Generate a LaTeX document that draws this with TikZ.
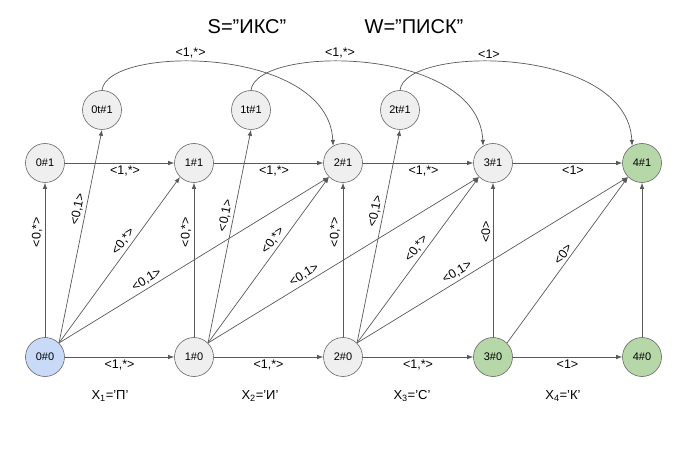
\documentclass[tikz,border=0pt]{standalone}
\usepackage{fontspec}
\setmainfont{Liberation Sans}
\usetikzlibrary{arrows.meta,positioning}

\definecolor{edgegray}{HTML}{595959}
\definecolor{rimgray}{HTML}{666666}
\definecolor{nodegray}{HTML}{EFEFEF}
\definecolor{startblue}{HTML}{C9DAF8}
\definecolor{finalgreen}{HTML}{B6D7A8}

\begin{document}
\begin{tikzpicture}[>={Latex[length=6pt,width=4.5pt]}, x=1pt, y=1pt,
  state/.style={circle, draw=rimgray, line width=0.6pt, fill=nodegray, minimum size=39pt, inner sep=0pt, font=\fontsize{11}{13}\selectfont},
  trans/.style={->, draw=edgegray, line width=0.7pt},
  lbl/.style={font=\fontsize{12.5}{14}\selectfont, text=black, inner sep=2.5pt}]
  \useasboundingbox (0,0) rectangle (680,453);

  % Words
  \node[font=\fontsize{20}{24}\selectfont] (wordS) at (247,426) {S=”ИКС”};
  \node[font=\fontsize{20}{24}\selectfont] (wordW) at (414,426) {W=”ПИСК”};

  % Row 0
  \node[state, fill=startblue] (n00) at (45,96) {0\#0};
  \node[state] (n10) at (194,96) {1\#0};
  \node[state] (n20) at (343,96) {2\#0};
  \node[state, fill=finalgreen] (n30) at (493,96) {3\#0};
  \node[state, fill=finalgreen] (n40) at (642,96) {4\#0};

  % Row 1
  \node[state] (n01) at (45,290) {0\#1};
  \node[state] (n11) at (194,290) {1\#1};
  \node[state] (n21) at (343,290) {2\#1};
  \node[state] (n31) at (493,290) {3\#1};
  \node[state, fill=finalgreen] (n41) at (642,290) {4\#1};

  % Transposition states
  \node[state] (t01) at (102,343) {0t\#1};
  \node[state] (t11) at (251,343) {1t\#1};
  \node[state] (t21) at (400,343) {2t\#1};

  % Letters of W
  \node[font=\fontsize{13}{15}\selectfont] (x1) at (110,57) {X\textsubscript{1}=’П’};
  \node[font=\fontsize{13}{15}\selectfont] (x2) at (260,57) {X\textsubscript{2}=’И’};
  \node[font=\fontsize{13}{15}\selectfont] (x3) at (412,57) {X\textsubscript{3}=’С’};
  \node[font=\fontsize{13}{15}\selectfont] (x4) at (563,57) {X\textsubscript{4}=’К’};

  % Horizontal moves
  \draw[trans] (n00) -- node[lbl, below] {<1,*>} (n10);
  \draw[trans] (n10) -- node[lbl, below] {<1,*>} (n20);
  \draw[trans] (n20) -- node[lbl, below] {<1,*>} (n30);
  \draw[trans] (n30) -- node[lbl, below] {<1>} (n40);
  \draw[trans] (n01) -- node[lbl, below, pos=0.55] {<1,*>} (n11);
  \draw[trans] (n11) -- node[lbl, below, pos=0.55] {<1,*>} (n21);
  \draw[trans] (n21) -- node[lbl, below, pos=0.55] {<1,*>} (n31);
  \draw[trans] (n31) -- node[lbl, below, pos=0.55] {<1>} (n41);

  % Vertical moves
  \draw[trans] (n00) -- node[lbl, sloped, above, pos=0.68] {<0,*>} (n01);
  \draw[trans] (n10) -- node[lbl, sloped, above, pos=0.68] {<0,*>} (n11);
  \draw[trans] (n20) -- node[lbl, sloped, above, pos=0.68] {<0,*>} (n21);
  \draw[trans] (n30) -- node[lbl, sloped, above, pos=0.68] {<0>} (n31);
  \draw[trans] (n40) -- (n41);

  % Diagonal moves
  \draw[trans] (n00.45) -- node[lbl, sloped, above, pos=0.585] {<0,*>} (n11.225);
  \draw[trans] (n10.45) -- node[lbl, sloped, above, pos=0.59] {<0,*>} (n21.225);
  \draw[trans] (n20.45) -- node[lbl, sloped, above, pos=0.54] {<0,*>} (n31.225);
  \draw[trans] (n30.45) -- node[lbl, sloped, above, pos=0.51] {<0>} (n41.225);
  \draw[trans] (n00.45) -- node[lbl, sloped, above, pos=0.34] {<0,1>} (n21.225);
  \draw[trans] (n10.45) -- node[lbl, sloped, above, pos=0.37] {<0,1>} (n31.225);
  \draw[trans] (n20.45) -- node[lbl, sloped, above, pos=0.385] {<0,1>} (n41.225);

  % Into transposition states
  \draw[trans] (n00.45) -- node[lbl, sloped, above, pos=0.62] {<0,1>} (t01.south);
  \draw[trans] (n10.45) -- node[lbl, sloped, above, pos=0.59] {<0,1>} (t11.south);
  \draw[trans] (n20.45) -- node[lbl, sloped, above, pos=0.61] {<0,1>} (t21.south);

  % Out of transposition states
  \draw[trans] (t01.north) .. controls (107,408) and (328,408) .. node[lbl, above, pos=0.42] {<1,*>} (n21.120);
  \draw[trans] (t11.north) .. controls (256,408) and (478,408) .. node[lbl, above, pos=0.42] {<1,*>} (n31.120);
  \draw[trans] (t21.north) .. controls (405,408) and (627,408) .. node[lbl, above, pos=0.42] {<1>} (n41.120);
\end{tikzpicture}
\end{document}
